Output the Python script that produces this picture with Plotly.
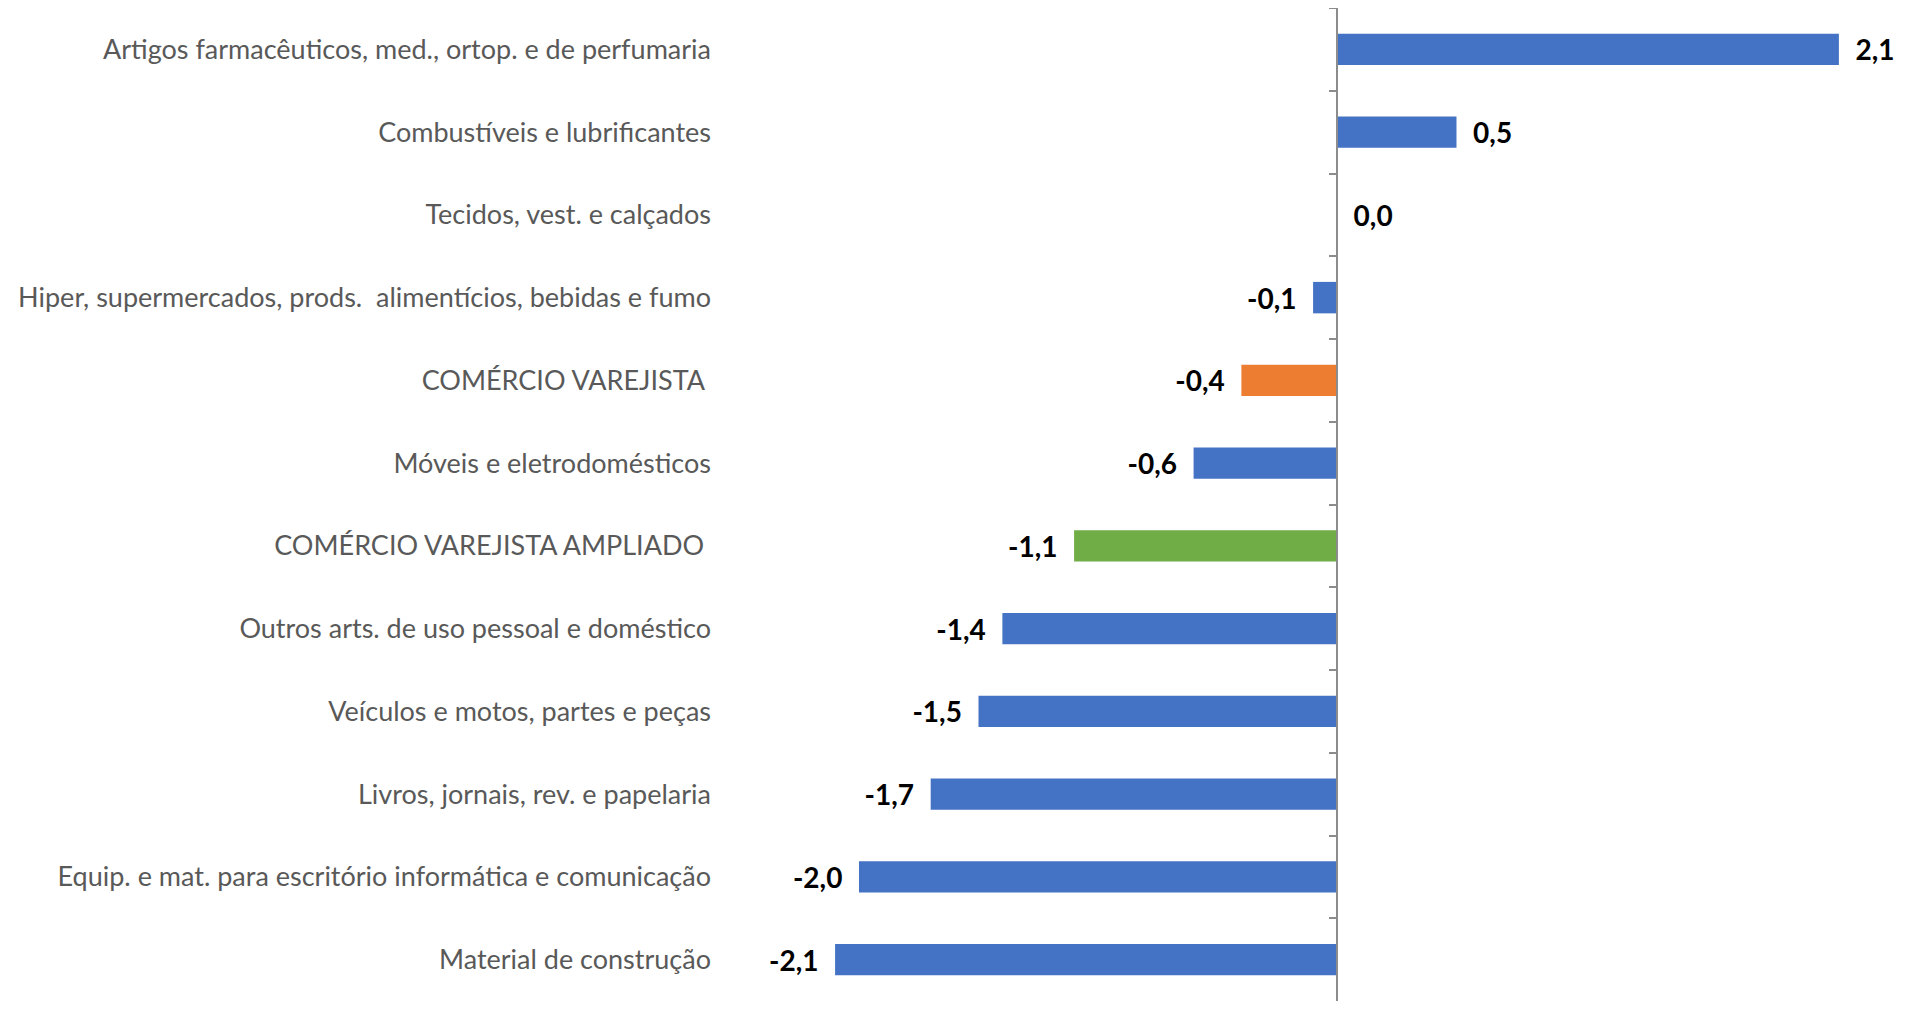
import plotly.graph_objects as go

categories = [
    "Artigos farmacêuticos, med., ortop. e de perfumaria",
    "Combustíveis e lubrificantes",
    "Tecidos, vest. e calçados",
    "Hiper, supermercados, prods.  alimentícios, bebidas e fumo",
    "COMÉRCIO VAREJISTA ",
    "Móveis e eletrodomésticos",
    "COMÉRCIO VAREJISTA AMPLIADO ",
    "Outros arts. de uso pessoal e doméstico",
    "Veículos e motos, partes e peças",
    "Livros, jornais, rev. e papelaria",
    "Equip. e mat. para escritório informática e comunicação",
    "Material de construção",
]
values = [2.1, 0.5, 0.0, -0.1, -0.4, -0.6, -1.1, -1.4, -1.5, -1.7, -2.0, -2.1]
bar_colors = ["#4472C4", "#4472C4", "#4472C4", "#4472C4", "#ED7D31", "#4472C4",
              "#70AD47", "#4472C4", "#4472C4", "#4472C4", "#4472C4", "#4472C4"]

NB = "\u00a0"
pad = NB * 2
value_text = []
for v in values:
    s = f"{v:.1f}".replace(".", ",")
    value_text.append(pad + s if v >= 0 else s + pad)

tick_text = [c.replace("  ", " " + NB).rstrip(" ") + (NB if c.endswith(" ") else "") for c in categories]

x_min, x_max = -2.615, 2.385
n = len(categories)

fig = go.Figure()
fig.add_trace(go.Bar(
    x=values, y=categories, orientation="h",
    marker=dict(color=bar_colors, line=dict(width=0)),
    text=value_text, textposition="outside", cliponaxis=False,
    constraintext="none",
    textfont=dict(family="Lato, Carlito, sans-serif", size=28, color="#000000", weight="bold"),
    hoverinfo="skip", showlegend=False,
))
# invisible helper trace to draw the zero axis with boundary ticks
fig.add_trace(go.Scatter(
    x=[0] * n, y=categories, yaxis="y2", mode="markers",
    marker=dict(opacity=0, size=1), hoverinfo="skip", showlegend=False,
))

fig.update_layout(
    paper_bgcolor="white", plot_bgcolor="white",
    margin=dict(l=704, r=0, t=0, b=0),
    bargap=0.62,
    font=dict(family="Lato, Carlito, sans-serif"),
    xaxis=dict(range=[x_min, x_max], showgrid=False, zeroline=False,
               showline=False, showticklabels=False, ticks=""),
    yaxis=dict(type="category", categoryorder="array", categoryarray=categories,
               range=[n - 0.5, -0.5], showgrid=False, showline=False, ticks="",
               tickvals=categories, ticktext=tick_text,
               tickfont=dict(family="Lato, Carlito, sans-serif", size=27, color="#595959")),
    yaxis2=dict(type="category", categoryorder="array", categoryarray=categories,
                range=[n - 0.5, -0.5], overlaying="y", anchor="free",
                position=(0 - x_min) / (x_max - x_min),
                showgrid=False, showline=True, linecolor="#8C8C8C", linewidth=1.5,
                ticks="outside", tickson="boundaries", ticklen=7, tickcolor="#8C8C8C",
                tickwidth=1.5, showticklabels=False, zeroline=False),
)

fig.write_html("out.html")
